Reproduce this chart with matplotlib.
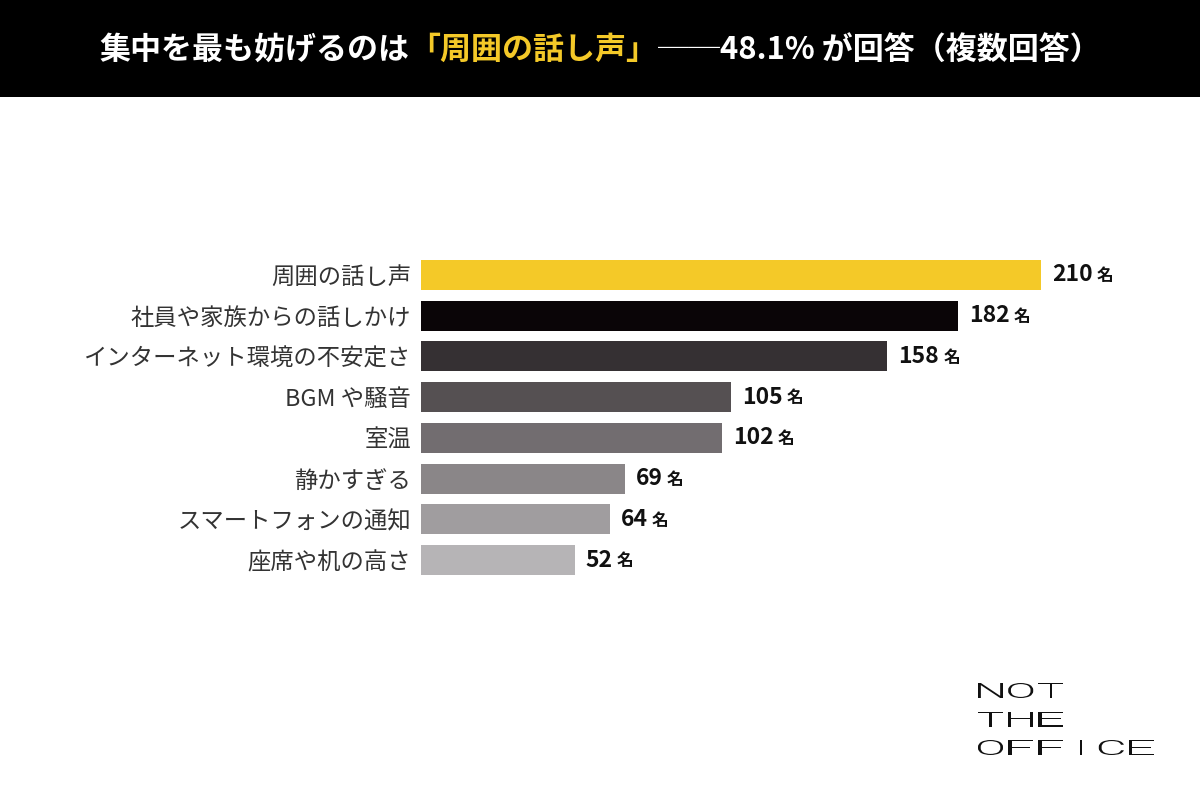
import matplotlib
matplotlib.use("Agg")
import matplotlib.pyplot as plt
from matplotlib.patches import Rectangle, PathPatch
from matplotlib.textpath import TextPath
from matplotlib.font_manager import FontProperties
from matplotlib.transforms import Affine2D, blended_transform_factory

plt.rcParams['font.family'] = ['Noto Sans CJK JP', 'DejaVu Sans']

categories = ["周囲の話し声", "社員や家族からの話しかけ", "インターネット環境の不安定さ",
              "BGM や騒音", "室温", "静かすぎる", "スマートフォンの通知", "座席や机の高さ"]
counts = [210, 182, 158, 105, 102, 69, 64, 52]
bar_colors = ["#f4c928", "#0a0507", "#353033", "#555052", "#726d70",
              "#8a8688", "#a09d9f", "#b6b4b6"]
unit = "名"

title_parts = [("集中を最も妨げるのは", "white"),
               ("「周囲の話し声」", "#f4c928"),
               ("──48.1% が回答（複数回答）", "white")]
logo_lines = ["NOT", "THE", "OFFICE"]

W, H = 1200, 800
fig = plt.figure(figsize=(12, 8), dpi=100)
fig.patch.set_facecolor("white")

# black title band
fig.add_artist(Rectangle((0, 1 - 97 / H), 1, 97 / H, transform=fig.transFigure,
                         facecolor="black", edgecolor="none", zorder=0))

ax = fig.add_axes([421 / W, 1 - 580.4 / H, 620 / W, 325.8 / H])
ys = list(range(len(categories)))
ax.barh(ys, counts, height=0.74, color=bar_colors)
ax.set_xlim(0, 210)
ax.set_ylim(len(categories) - 0.5, -0.5)
ax.set_yticks(ys)
ax.set_yticklabels(categories, fontsize=16.8, color="#333333")
ax.tick_params(axis="y", length=0, pad=7)
ax.set_xticks([])
for s in ax.spines.values():
    s.set_visible(False)

fig.canvas.draw()
renderer = fig.canvas.get_renderer()
trans = blended_transform_factory(ax.transAxes, ax.transData)

# value labels: bold number + smaller unit
for y, v in zip(ys, counts):
    t = ax.annotate(str(v), (v, y), xytext=(8, 0), textcoords="offset points",
                    ha="left", va="center", fontsize=16.5, fontweight="bold", color="#111111")
    bb = t.get_window_extent(renderer)
    xd, _ = ax.transAxes.inverted().transform((bb.x1 + 4, 0))
    ax.text(xd, y + 0.03, unit, transform=trans, ha="left", va="center",
            fontsize=12, fontweight="bold", color="#111111")

# title built from coloured parts, centred
texts = []
for s, c in title_parts:
    t = fig.text(0, 1 - 50 / H, s, color=c, fontsize=22.3, fontweight="bold",
                 ha="left", va="center")
    texts.append(t)
fig.canvas.draw()
widths = [t.get_window_extent(renderer).width for t in texts]
start = (W - sum(widths)) / 2
for t, w in zip(texts, widths):
    t.set_x(start / W)
    start += w

# logo: light glyphs stretched into square-ish boxes
fp = FontProperties(family="Roboto", weight=300)
for i, line in enumerate(logo_lines):
    top = 683 + i * 28.5
    for j, ch in enumerate(line):
        p = TextPath((0, 0), ch, size=20, prop=fp)
        ext = p.get_extents()
        gh, gw = 15.0, 25.0
        sy = gh / ext.height
        sx = gw / ext.width if ch != "I" else sy * 1.3
        x0 = 978 + j * 30.2
        if ch == "I":
            x0 += (gw - ext.width * sx) / 2
        tr = Affine2D().translate(-ext.x0, -ext.y0).scale(sx, sy).translate(x0, H - top - gh)
        fig.add_artist(PathPatch(p, transform=tr, facecolor="#111111", edgecolor="none"))

fig.savefig("out.png", dpi=100, facecolor="white")
